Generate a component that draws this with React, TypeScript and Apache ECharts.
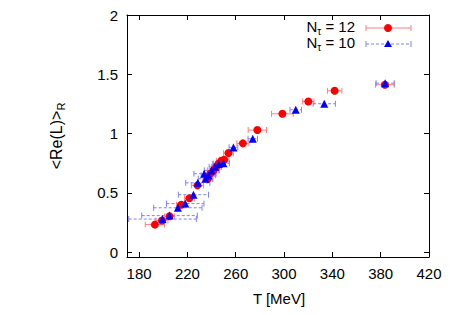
import React, { useEffect, useRef } from "react";
import * as echarts from "echarts";

// N_tau = 12 (red circles)
const redT = [193.1, 198.9, 205.2, 214.9, 221.7, 228.3, 236.9, 238.8, 241.6, 243.8, 245.7, 248.0, 250.4, 254.0, 265.9, 277.9, 298.6, 320.1, 341.9, 383.5];
const redRL = [0.233, 0.267, 0.303, 0.400, 0.455, 0.564, 0.620, 0.662, 0.690, 0.718, 0.747, 0.770, 0.780, 0.836, 0.918, 1.030, 1.167, 1.271, 1.361, 1.412];
const redErr = [8, 5, 4, 4, 4, 5, 4, 5, 5, 4, 4, 4, 4, 4, 5, 7.6, 9, 4.7, 6, 7.7];

// N_tau = 10 (blue triangles)
const blueT = [199.4, 205.2, 212.1, 218.2, 225.0, 228.6, 233.9, 235.0, 237.4, 240.0, 243.0, 246.0, 249.8, 258.1, 274.1, 309.7, 333.3, 383.7];
const blueRL = [0.280, 0.309, 0.375, 0.410, 0.485, 0.585, 0.662, 0.620, 0.648, 0.690, 0.720, 0.745, 0.750, 0.884, 0.957, 1.201, 1.252, 1.425];
const blueErr = [28, 23, 20, 15.5, 12.5, 10, 8.5, 6, 6, 6, 5, 5, 5, 3.6, 3.9, 4.8, 9.2, 7.5];

const xTicks = [180, 220, 260, 300, 340, 380, 420];
const yTicks = [0, 0.5, 1, 1.5, 2];

const legendLabels = ["12", "10"];
const FONT = '"Liberation Sans", Arial, Helvetica, sans-serif';

function measure(text: string, size: number): number {
  const c = document.createElement("canvas").getContext("2d");
  if (!c) return text.length * size * 0.55;
  c.font = `${size}px ${FONT}`;
  return c.measureText(text).width;
}

function errorSeries(t: number[], v: number[], e: number[], stroke: string, dash: number[] | null) {
  return {
    type: "custom",
    xAxisIndex: 0,
    yAxisIndex: 0,
    data: t.map((x, i) => [x, v[i], e[i]]),
    renderItem: (params: any, api: any) => {
      const x = api.value(0);
      const y = api.value(1);
      const er = api.value(2);
      const p1 = api.coord([x - er, y]);
      const p2 = api.coord([x + er, y]);
      const h = 3;
      const st: any = { stroke, lineWidth: 1, fill: null };
      if (dash) st.lineDash = dash;
      return {
        type: "group",
        children: [
          { type: "line", shape: { x1: p1[0], y1: p1[1], x2: p2[0], y2: p2[1] }, style: st },
          { type: "line", shape: { x1: p1[0], y1: p1[1] - h, x2: p1[0], y2: p1[1] + h }, style: { stroke, lineWidth: 1 } },
          { type: "line", shape: { x1: p2[0], y1: p2[1] - h, x2: p2[0], y2: p2[1] + h }, style: { stroke, lineWidth: 1 } },
        ],
      };
    },
    silent: true,
    z: 2,
  };
}

export default function App() {
  const ref = useRef<HTMLDivElement>(null);
  useEffect(() => {
    if (!ref.current) return;
    const chart = echarts.init(ref.current, null, { renderer: "svg" });

    const redStroke = "#ff7f7f";
    const blueStroke = "#8080ff";

    // legend construction
    const legendRight = 355;
    const legendY = [26, 42];
    const legendGraphics: any[] = [];
    legendLabels.forEach((lab, i) => {
      const wN = measure("N", 15);
      const wTau = measure("τ", 10);
      const rest = " = " + lab;
      const wRest = measure(rest, 15);
      const x0 = legendRight - (wN + wTau + wRest);
      const y = legendY[i];
      legendGraphics.push(
        { type: "text", x: x0, y, style: { text: "N", font: `15px ${FONT}`, fill: "#000", textVerticalAlign: "middle", textAlign: "left" } },
        { type: "text", x: x0 + wN, y: y + 5, style: { text: "τ", font: `10px ${FONT}`, fill: "#000", textVerticalAlign: "middle", textAlign: "left" } },
        { type: "text", x: x0 + wN + wTau, y, style: { text: rest, font: `15px ${FONT}`, fill: "#000", textVerticalAlign: "middle", textAlign: "left" } }
      );
      const ly = y + 2;
      const stroke = i === 0 ? redStroke : blueStroke;
      const dash = i === 0 ? null : [3, 2];
      const lst: any = { stroke, lineWidth: 1 };
      if (dash) lst.lineDash = dash;
      legendGraphics.push(
        { type: "line", shape: { x1: 366, y1: ly, x2: 411, y2: ly }, style: lst },
        { type: "line", shape: { x1: 366, y1: ly - 3, x2: 366, y2: ly + 3 }, style: { stroke, lineWidth: 1 } },
        { type: "line", shape: { x1: 411, y1: ly - 3, x2: 411, y2: ly + 3 }, style: { stroke, lineWidth: 1 } }
      );
      if (i === 0) {
        legendGraphics.push({ type: "circle", shape: { cx: 388, cy: ly, r: 4 }, style: { fill: "#ff0000" } });
      } else {
        legendGraphics.push({ type: "polygon", shape: { points: [[388, ly - 4], [384, ly + 3], [392, ly + 3]] }, style: { fill: "#0000ff" } });
      }
    });

    // y-axis title
    const w1 = measure("<Re(L)>", 16);
    const w2 = measure("R", 11);
    const W = w1 + w2;
    const yTitle = {
      type: "group",
      x: 56,
      y: 136,
      rotation: Math.PI / 2,
      children: [
        { type: "text", x: -W / 2, y: 0, style: { text: "<Re(L)>", font: `16px ${FONT}`, fill: "#000", textVerticalAlign: "middle", textAlign: "left" } },
        { type: "text", x: -W / 2 + w1, y: 5, style: { text: "R", font: `11px ${FONT}`, fill: "#000", textVerticalAlign: "middle", textAlign: "left" } },
      ],
    };

    const axisCommon = {
      axisLine: { show: true, onZero: false, lineStyle: { color: "#000", width: 1 } },
      splitLine: { show: false },
    };

    chart.setOption({
      animation: false,
      grid: { left: 127, right: 21, top: 15, bottom: 58 },
      xAxis: [
        {
          type: "value",
          min: 170,
          max: 420,
          position: "bottom",
          ...axisCommon,
          axisTick: { show: true, inside: true, length: 5, customValues: xTicks, lineStyle: { color: "#000" } },
          axisLabel: { show: true, customValues: xTicks, margin: 9, color: "#000", fontSize: 15, fontFamily: FONT, showMinLabel: true, showMaxLabel: true },
        },
        {
          type: "value",
          min: 170,
          max: 420,
          position: "top",
          ...axisCommon,
          axisTick: { show: true, inside: true, length: 5, customValues: xTicks, lineStyle: { color: "#000" } },
          axisLabel: { show: false },
        },
      ],
      yAxis: [
        {
          type: "value",
          min: -0.04,
          max: 2,
          position: "left",
          ...axisCommon,
          axisTick: { show: true, inside: true, length: 5, customValues: yTicks, lineStyle: { color: "#000" } },
          axisLabel: { show: true, customValues: yTicks, margin: 9, color: "#000", fontSize: 15, fontFamily: FONT, showMinLabel: true, showMaxLabel: true },
        },
        {
          type: "value",
          min: -0.04,
          max: 2,
          position: "right",
          ...axisCommon,
          axisTick: { show: true, inside: true, length: 5, customValues: yTicks, lineStyle: { color: "#000" } },
          axisLabel: { show: false },
        },
      ],
      series: [
        errorSeries(redT, redRL, redErr, redStroke, null),
        {
          type: "scatter",
          xAxisIndex: 0,
          yAxisIndex: 0,
          symbol: "circle",
          symbolSize: 8,
          itemStyle: { color: "#ff0000", opacity: 1 },
          data: redT.map((x, i) => [x, redRL[i]]),
          silent: true,
          z: 3,
        },
        errorSeries(blueT, blueRL, blueErr, blueStroke, [3, 2]),
        {
          type: "scatter",
          xAxisIndex: 0,
          yAxisIndex: 0,
          symbol: "triangle",
          symbolSize: 8,
          itemStyle: { color: "#0000ff", opacity: 1 },
          data: blueT.map((x, i) => [x, blueRL[i]]),
          silent: true,
          z: 4,
        },
      ],
      graphic: [
        ...legendGraphics,
        yTitle,
        { type: "text", x: 279, y: 298, style: { text: "T [MeV]", font: `15px ${FONT}`, fill: "#000", textAlign: "center", textVerticalAlign: "middle" } },
      ],
    });
    return () => chart.dispose();
  }, []);
  return <div ref={ref} style={{ width: 450, height: 315, margin: -8 }} />;
}
